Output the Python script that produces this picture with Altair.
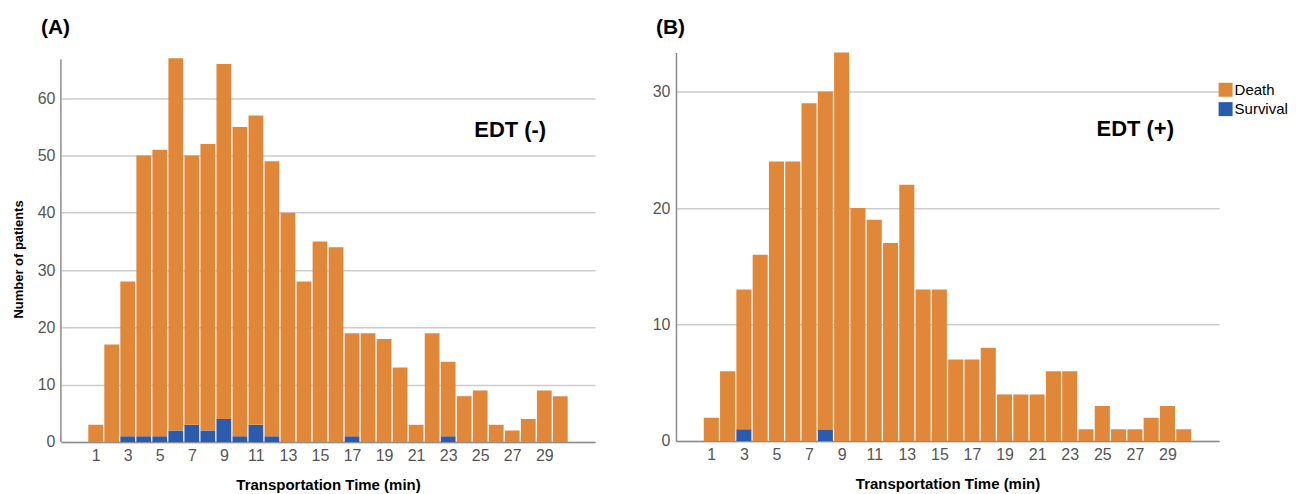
import altair as alt
import pandas as pd

# ---------------- data ----------------
times = list(range(1, 31))
outcomes = ["Death", "Survival"]
colors = ["#E1873A", "#2B5BAC"]

a_death = [3, 17, 27, 49, 50, 65, 47, 50, 62, 54, 54, 48, 40, 28, 35, 34, 18, 19, 18, 13,
           3, 19, 13, 8, 9, 3, 2, 4, 9, 8]
a_survival = [0, 0, 1, 1, 1, 2, 3, 2, 4, 1, 3, 1, 0, 0, 0, 0, 1, 0, 0, 0,
              0, 0, 1, 0, 0, 0, 0, 0, 0, 0]
b_death = [2, 6, 12, 16, 24, 24, 29, 29, 34, 20, 19, 17, 22, 13, 13, 7, 7, 8, 4, 4,
           4, 6, 6, 1, 3, 1, 1, 2, 3, 1]
b_survival = [0, 0, 1, 0, 0, 0, 0, 1, 0, 0, 0, 0, 0, 0, 0, 0, 0, 0, 0, 0,
              0, 0, 0, 0, 0, 0, 0, 0, 0, 0]

x_ticks = [1, 3, 5, 7, 9, 11, 13, 15, 17, 19, 21, 23, 25, 27, 29]
a_yticks = [0, 10, 20, 30, 40, 50, 60]
b_yticks = [0, 10, 20, 30]
a_axis_top = 66.75   # top of the value axis in panel A

FONT = "Liberation Sans"
AXIS_GREY = "#8c8c8c"


def long_table(death, survival):
    rows = []
    for t, d, s in zip(times, death, survival):
        rows.append({"time": t, "outcome": "Survival", "count": s, "ord": 0})
        rows.append({"time": t, "outcome": "Death", "count": d, "ord": 1})
    return pd.DataFrame(rows)


def panel(df, width, height, ydom, yticks, ytitle, ptitle, label, lx, ly, barw, axis_top=None):
    yaxis_kw = dict(values=yticks, grid=True, ticks=False, labelPadding=6)
    if ytitle:
        yaxis_kw.update(title=ytitle, titleX=-42.8, titleY=206.7, titleAngle=270,
                        titleAlign="center", titleBaseline="middle", titleFontSize=13)
    else:
        yaxis_kw.update(title=None)
    if axis_top is not None:
        yaxis_kw.update(domain=False)
    bars = alt.Chart(df).mark_bar(width=barw, clip=True).encode(
        x=alt.X("time:Q",
                scale=alt.Scale(domain=[-1.17, 32.17], nice=False, zero=False, padding=0),
                axis=alt.Axis(values=x_ticks, grid=False, ticks=False, labelPadding=6,
                              title="Transportation Time (min)", titleFontSize=15,
                              titleY=47.4, titleBaseline="alphabetic")),
        y=alt.Y("count:Q", stack="zero",
                scale=alt.Scale(domain=ydom, nice=False),
                axis=alt.Axis(**yaxis_kw)),
        color=alt.Color("outcome:N",
                        scale=alt.Scale(domain=outcomes, range=colors),
                        legend=alt.Legend(title=None, orient="none", legendX=1159, legendY=29.7,
                                          symbolType="square", symbolSize=196,
                                          symbolStrokeWidth=0, labelFontSize=15,
                                          labelFont=FONT, labelColor="#000000",
                                          labelOffset=1.5, rowPadding=3.4, padding=0)),
        order=alt.Order("ord:Q", sort="ascending"),
    )
    txt = alt.Chart(pd.DataFrame({"label": [label]})).mark_text(
        font=FONT, fontSize=22, fontWeight="bold", align="center",
        baseline="alphabetic", color="#000000"
    ).encode(x=alt.value(lx), y=alt.value(ly), text="label:N")
    layers = [bars, txt]
    if axis_top is not None:
        axis_line = alt.Chart(pd.DataFrame({"k": [0]})).mark_rule(
            color=AXIS_GREY, strokeWidth=1.5
        ).encode(x=alt.value(0), y=alt.datum(axis_top), y2=alt.datum(0))
        layers.append(axis_line)
    return alt.layer(*layers).properties(
        width=width, height=height,
        title=alt.TitleParams(text=ptitle, anchor="start", frame="group", dx=-20, dy=2.2,
                              offset=0, fontSize=21, font=FONT,
                              fontWeight="bold", baseline="alphabetic", color="#000000"),
    )


pa = panel(long_table(a_death, a_survival), 535, 390, [0, 67.97], a_yticks,
           "Number of patients", "(A)", "EDT (-)", 450, 85, 14.8, axis_top=a_axis_top)
pb = panel(long_table(b_death, b_survival), 544, 389, [0, 33.35], b_yticks,
           None, "(B)", "EDT (+)", 460, 84, 15.1)

chart = alt.concat(pa, pb, columns=2, align="none", spacing=57).properties(
    padding={"left": 4, "top": 8.3, "right": 0, "bottom": 0}
).configure_view(stroke=None).configure_axis(
    domainColor=AXIS_GREY, domainWidth=1.5,
    labelColor="#555555", labelFont=FONT, labelFontSize=16,
    gridColor="#cccccc", gridWidth=1.5,
    titleFont=FONT, titleFontWeight="bold", titleColor="#000000",
)

chart.save("out.html", embed_options={"renderer": "svg", "actions": False})
